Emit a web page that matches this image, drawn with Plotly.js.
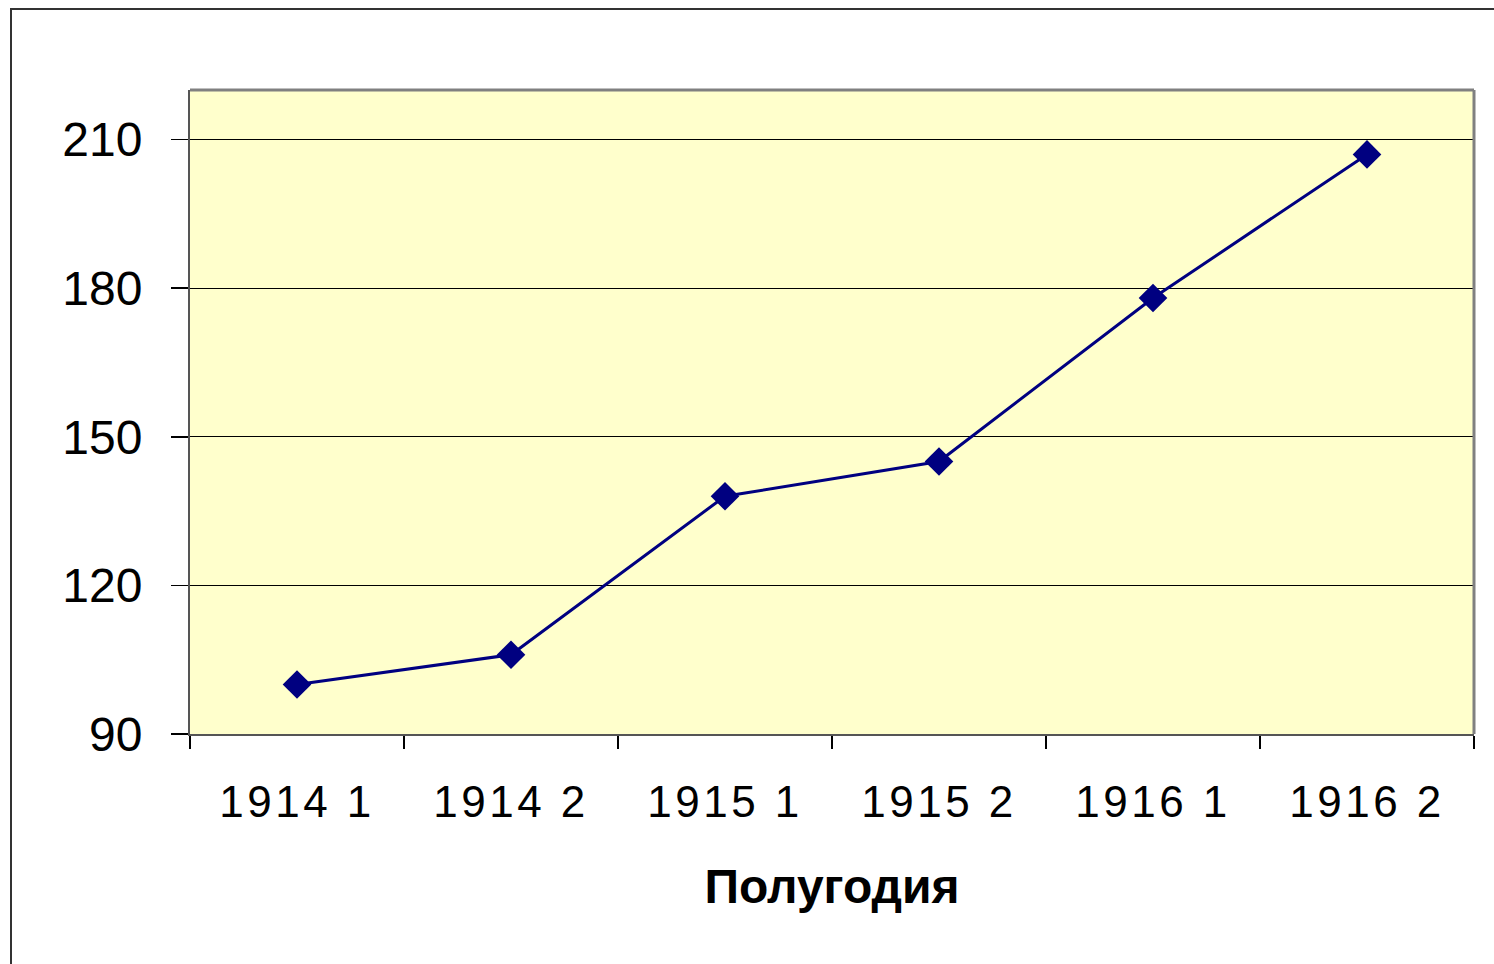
<!DOCTYPE html>
<html>
<head>
<meta charset="utf-8">
<script src="https://cdn.plot.ly/plotly-3.0.1.min.js"></script>
<style>html,body{margin:0;padding:0;background:#fff;}#chart{width:1494px;height:964px;}
#chart .xtick text{letter-spacing:3.5px;}</style>
</head>
<body>
<div id="chart"></div>
<script>
const categories = ["1914 1", "1914 2", "1915 1", "1915 2", "1916 1", "1916 2"];
const values = [100, 106, 138, 145, 178, 207];
const yTicks = [90, 120, 150, 180, 210];
const xTitle = "Полугодия";

const W = 1494, H = 964, L = 190, R = 20, T = 90, B = 230;
const pw = W - L - R, ph = H - T - B;
function px(x) { return (x - L) / pw; }
function py(y) { return (H - B - y) / ph; }

const trace = {
  x: categories,
  y: values,
  type: 'scatter',
  mode: 'lines+markers',
  line: {color: '#000080', width: 3},
  marker: {symbol: 'diamond', size: 22, color: '#000080'},
  hoverinfo: 'skip'
};

const layout = {
  width: W, height: H,
  margin: {l: L, r: R, t: T, b: B, pad: 0},
  paper_bgcolor: '#ffffff',
  plot_bgcolor: '#FFFFCC',
  showlegend: false,
  font: {family: 'Liberation Sans, Arial, sans-serif', color: '#000'},
  xaxis: {
    type: 'category',
    tickson: 'boundaries',
    ticks: 'outside', ticklen: 13, tickwidth: 1.5, tickcolor: '#000',
    showgrid: false,
    showline: true, linecolor: '#555', linewidth: 2,
    mirror: false,
    tickfont: {size: 44, color: '#000'},
    ticklabelstandoff: 28,
    range: [-0.5, 5.5],
    title: {text: '<b>' + xTitle + '</b>', font: {size: 48, color: '#000'}, standoff: 45},
    automargin: false
  },
  yaxis: {
    range: [90, 220],
    tickvals: yTicks,
    ticktext: yTicks.map(String),
    ticks: 'outside', ticklen: 17, tickwidth: 1.5, tickcolor: '#000',
    showgrid: true, gridcolor: '#000', gridwidth: 1,
    zeroline: false,
    showline: true, linecolor: '#555', linewidth: 2,
    tickfont: {size: 48, color: '#000'},
    ticklabelstandoff: 19,
    automargin: false
  },
  shapes: [
    {type: 'line', xref: 'paper', yref: 'paper', x0: 0, x1: 1, y0: 1, y1: 1, line: {color: '#808080', width: 3}},
    {type: 'line', xref: 'paper', yref: 'paper', x0: 1, x1: 1, y0: 0, y1: 1, line: {color: '#808080', width: 3}},
    {type: 'rect', xref: 'paper', yref: 'paper', x0: px(11), x1: px(1500), y0: py(970), y1: py(9), line: {color: '#333', width: 2}, fillcolor: 'rgba(0,0,0,0)', layer: 'below'}
  ]
};

Plotly.newPlot('chart', [trace], layout, {displayModeBar: false, staticPlot: true});
</script>
</body>
</html>
